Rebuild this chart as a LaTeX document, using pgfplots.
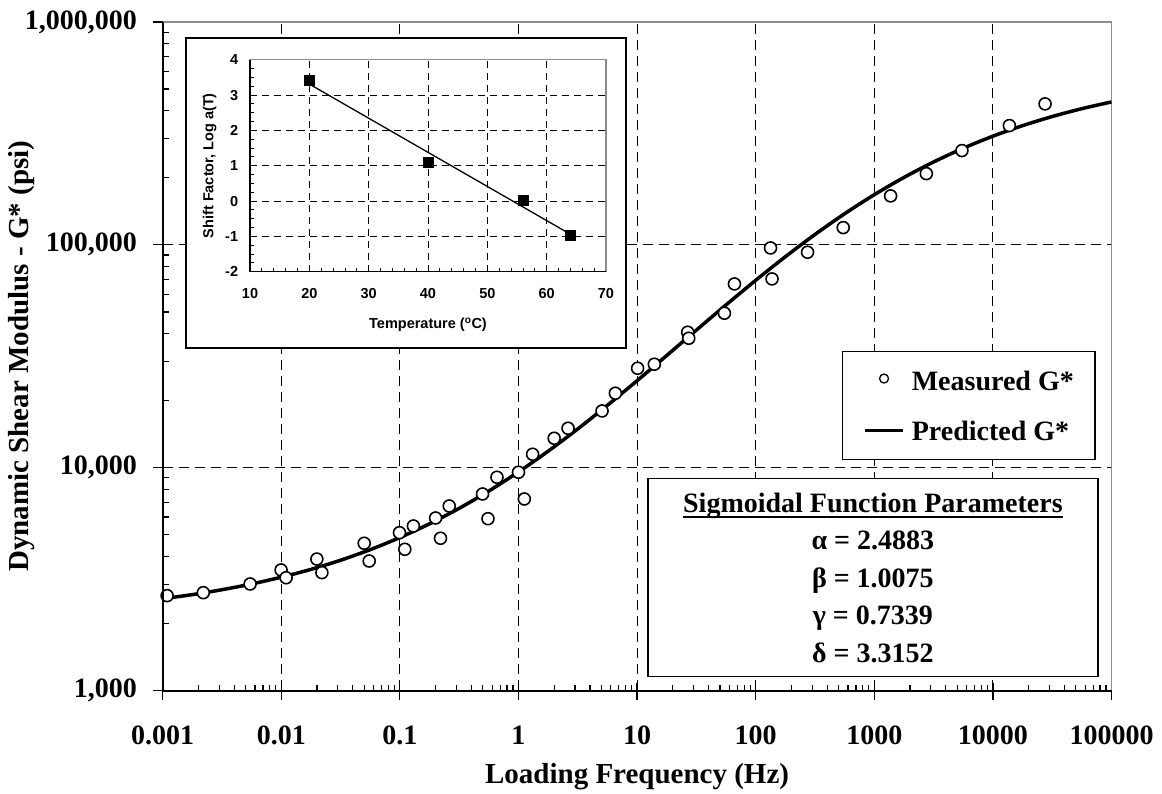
\documentclass[border=0pt]{standalone}
\usepackage{fontspec}
\setmainfont{Liberation Serif}
\newfontfamily\arialfont{Liberation Sans}
\usepackage{pgfplots}
\pgfplotsset{compat=1.18}
\newcommand\ulbox[1]{\setbox0\hbox{#1}\rlap{\rule[-6.2pt]{\wd0}{2.4pt}}\box0}

\begin{document}
\begin{tikzpicture}[x=1pt,y=1pt]
\useasboundingbox (0,0) rectangle (1162,793);
\begin{axis}[
  name=main,
  at={(162.7pt,102.5pt)}, anchor=south west,
  scale only axis, width=948.8pt, height=668.5pt,
  xmode=log, ymode=log,
  xmin=1e-3, xmax=1e5, ymin=1e3, ymax=1e6,
  xtick={1e-3,1e-2,1e-1,1,10,100,1000,10000,100000},
  xticklabels={0.001,0.01,0.1,1,10,100,1000,10000,100000},
  ytick={1e3,1e4,1e5,1e6},
  yticklabels={{1,000},{10,000},{100,000},{1,000,000}},
  tick pos=left, tick align=inside,
  major tick length=8pt, minor tick length=6pt,
  tick style={black, line width=1.2pt},
  extra x ticks={1e-3,1e-2,1e-1,1,10,100,1000,10000,100000},
  extra x tick labels={,,,,,,,,},
  extra x tick style={tick align=outside, major tick length=10pt, grid=none},
  extra y ticks={1e3,1e4,1e5,1e6},
  extra y tick labels={,,,},
  extra y tick style={tick align=outside, major tick length=10pt, grid=none},
  grid=major,
  major grid style={black, line width=1pt, dash pattern=on 10pt off 6pt},
  axis line style={black!45, line width=1.8pt},
  ticklabel style={font=\fontsize{28}{28}\selectfont\bfseries},
  xticklabel style={anchor=base, yshift=-54.5pt, inner sep=0pt},
  yticklabel style={anchor=east, inner sep=0pt, xshift=-25.7pt},
  label style={font=\fontsize{29}{29}\selectfont\bfseries},
  xlabel={Loading Frequency (Hz)},
  xlabel style={at={(axis description cs:0.5,0)}, anchor=base, yshift=-93.5pt, inner sep=0pt},
  ylabel={Dynamic Shear Modulus - G* (psi)},
  ylabel style={at={(axis description cs:-0.1419,0.5)}, anchor=base, inner sep=0pt},
  clip mode=individual,
  reverse legend,
  legend cell align=left,
  legend style={at={(axis description cs:0.7158,0.5083)}, anchor=north west,
    draw=black, line width=1.5pt, fill=white,
    font=\fontsize{28}{28}\selectfont\bfseries,
    inner xsep=21pt, inner ysep=12.6pt, row sep=18.7pt, column sep=7.3pt,
    nodes={inner sep=0pt, text height=26pt, text depth=6pt}},
]
\addplot[black, line width=3.5pt, smooth,
  legend image code/.code={\draw[black,line width=3.2pt] (0pt,0pt) -- (37.7pt,0pt);}]
coordinates {
(0.001,2581) (0.0017783,2693) (0.0031623,2833) (0.0056234,3007)
(0.01,3225) (0.017783,3496) (0.031623,3843) (0.056234,4286)
(0.1,4858) (0.17783,5598) (0.31623,6571) (0.56234,7856)
(1,9567) (1.7783,11855) (3.1623,14925) (5.6234,19054)
(10,24560) (17.783,31877) (31.623,41440) (56.234,53761)
(100,69311) (177.83,88421) (316.23,111300) (562.34,137910)
(1000,167880) (1778.3,200590) (3162.3,235380) (5623.4,271270)
(10000,307310) (17783,342570) (31623,376470) (56234,408320)
(100000,437730)
};
\addlegendentry{Predicted G*}
\addplot[only marks, mark=*, mark size=6pt,
  mark options={fill=white, draw=black, line width=1.6pt},
  legend image code/.code={\path[draw=none, fill=none] (0pt,-1pt) rectangle (37.7pt,1pt); \filldraw[draw=black, fill=white, line width=1.3pt, solid] (18.85pt,1.5pt) circle (4.5pt);}]
coordinates {
(0.00109,2665) (0.00220,2748) (0.00546,3006) (0.00996,3475) (0.01098,3206)
(0.01995,3890) (0.0220,3381) (0.0500,4578) (0.0551,3812) (0.0992,5108)
(0.110,4303) (0.130,5473) (0.200,5945) (0.220,4821) (0.2606,6731)
(0.4977,7621) (0.553,5903) (0.6586,9055) (1.0,9537) (1.12,7235)
(1.315,11484) (2.0,13550) (2.617,15025) (5.065,17970) (6.56,21580)
(10.1,27930) (13.97,29120) (26.7,40520) (27.25,38090) (54.5,49320)
(66.2,66760) (133.4,96830) (137.3,70300) (273.6,92640) (547,119470)
(1373,165820) (2747,208700) (5483,264800) (13770,342800) (27530,429000)
};
\addlegendentry{Measured G*}
\end{axis}
\draw[black, line width=2pt] (main.south west) -- (main.south east);
\draw[black, line width=2pt] (main.south west) -- (main.north west);

\node[draw=black, line width=1.5pt, fill=white, minimum width=449.7pt, minimum height=198.4pt,
  inner sep=0pt, align=center, font=\fontsize{28}{37.5}\selectfont\bfseries]
  at (872.9,215.5) {\ulbox{Sigmoidal Function Parameters}\\ α = 2.4883\\ β = 1.0075\\ γ = 0.7339\\ δ = 3.3152};

\draw[black, line width=1.5pt, fill=white] (186,445) rectangle (626,755);

\begin{axis}[
  name=inset,
  at={(250pt,521.3pt)}, anchor=south west,
  scale only axis, width=356pt, height=212pt,
  xmin=10, xmax=70, ymin=-2, ymax=4,
  xtick={10,20,...,70}, ytick={-2,-1,...,4},
  minor x tick num=4, minor y tick num=3,
  tick pos=left, tick align=inside,
  major tick length=5pt, minor tick length=4pt,
  tick style={black, line width=0.8pt},
  grid=major,
  major grid style={black, line width=0.8pt, dash pattern=on 7pt off 5pt},
  axis line style={black!45, line width=1.2pt},
  /pgf/number format/assume math mode=true,
  ticklabel style={font=\arialfont\bfseries\fontsize{14.5}{14.5}\selectfont},
  xticklabel style={anchor=base, yshift=-27.3pt, inner sep=0pt},
  yticklabel style={anchor=east, inner sep=0pt, xshift=-11.7pt},
  label style={font=\arialfont\bfseries\fontsize{14.5}{14.5}\selectfont},
  xlabel={Temperature (\textsuperscript{o}C)},
  ylabel={Shift Factor, Log a(T)},
  xlabel style={at={(axis description cs:0.5,0)}, anchor=base, yshift=-57.3pt, inner sep=0pt},
  ylabel style={at={(axis description cs:-0.1031,0.5)}, anchor=base, inner sep=0pt},
]
\addplot[black, line width=1.3pt] coordinates {(20,3.31) (64,-0.94)};
\addplot[only marks, mark=square*, mark size=5pt, black] coordinates {(20,3.425) (40,1.113) (56,0.01) (64,-0.962)};
\end{axis}
\draw[black, line width=1.5pt] (inset.south west) -- (inset.south east);
\draw[black, line width=1.5pt] (inset.south west) -- (inset.north west);
\end{tikzpicture}
\end{document}
